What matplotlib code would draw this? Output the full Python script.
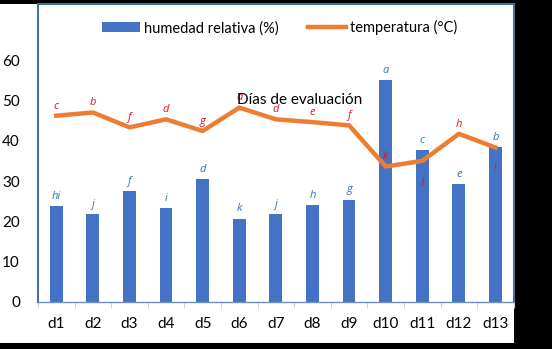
import numpy as np
import matplotlib
matplotlib.use("Agg")
import matplotlib.pyplot as plt
from matplotlib.patches import Rectangle

plt.rcParams['font.family'] = ['Lato', 'DejaVu Sans']

# data
dias = ['d1', 'd2', 'd3', 'd4', 'd5', 'd6', 'd7', 'd8', 'd9', 'd10', 'd11', 'd12', 'd13']
humedad = [23.8, 21.7, 27.5, 23.2, 30.4, 20.7, 21.7, 24.0, 25.4, 55.1, 37.7, 29.3, 38.5]
temperatura = [46.2, 47.0, 43.3, 45.3, 42.4, 48.2, 45.3, 44.6, 43.8, 33.6, 35.0, 41.7, 38.3]
letras_hum = ['hi', 'j', 'f', 'i', 'd', 'k', 'j', 'h', 'g', 'a', 'c', 'e', 'b']
letras_temp = ['c', 'b', 'f', 'd', 'g', 'a', 'd', 'e', 'f', 'k', 'j', 'h', 'i']
yticks = [0, 10, 20, 30, 40, 50, 60]

fig = plt.figure(figsize=(5.52, 3.49), dpi=100, facecolor='black')
# white chart area, black round it
fig.patches.append(Rectangle((0, 0.017), 0.931, 0.972, transform=fig.transFigure,
                             facecolor='white', edgecolor='none', zorder=-5))
ax = fig.add_axes([0.0688, 0.1347, 0.862, 0.855])
ax.set_facecolor('white')

x = np.arange(len(dias))
barras = ax.bar(x, humedad, width=0.35, color='#4472C4', label='humedad relativa (%)', zorder=2)
linea, = ax.plot(x, temperatura, color='#ED7D31', lw=3.2, label='temperatura (°C)', zorder=3)

# letters of the mean comparison test
for i in range(len(dias)):
    ax.annotate(letras_hum[i], (x[i], humedad[i]), xytext=(0, 3), textcoords='offset points',
                ha='center', va='bottom', fontsize=8, style='italic', family='Open Sans',
                color='#2E75B6', zorder=4)
    dy = 3
    va = 'bottom'
    if dias[i] in ('d11', 'd13'):
        dy = -10
        va = 'top'
    ax.annotate(letras_temp[i], (x[i], temperatura[i]), xytext=(0, dy), textcoords='offset points',
                ha='center', va=va, fontsize=8, style='italic', family='Open Sans',
                color='#E8102A', zorder=4)

ax.text(6.65, 50.1, 'Días de evaluación', ha='center', va='center', fontsize=11, color='black', zorder=5)

ax.set_xlim(-0.5, len(dias) - 0.5)
ax.set_ylim(0, 74)
ax.set_yticks(yticks)
ax.set_xticks(x)
ax.set_xticklabels(dias)
ax.set_xticks(np.arange(-0.5, len(dias)), minor=True)
ax.tick_params(axis='y', length=0, pad=13, labelsize=11)
ax.tick_params(axis='x', which='major', length=0, pad=11, labelsize=11)
ax.tick_params(axis='x', which='minor', length=4, color='#D0D0D0', width=0.8)

for s in ax.spines.values():
    s.set_color('#41719C')
    s.set_linewidth(1.5)
ax.spines['bottom'].set_color('#6E8FC0')
ax.spines['bottom'].set_linewidth(1.0)

fig.legend([barras, linea], ['humedad relativa (%)', 'temperatura (°C)'],
           loc='center', bbox_to_anchor=(0.507, 0.92), ncol=2, frameon=False,
           fontsize=10.5, handlelength=2.6, handletextpad=0.3, columnspacing=2.0)

fig.savefig('out.png', dpi=100, facecolor='black')
